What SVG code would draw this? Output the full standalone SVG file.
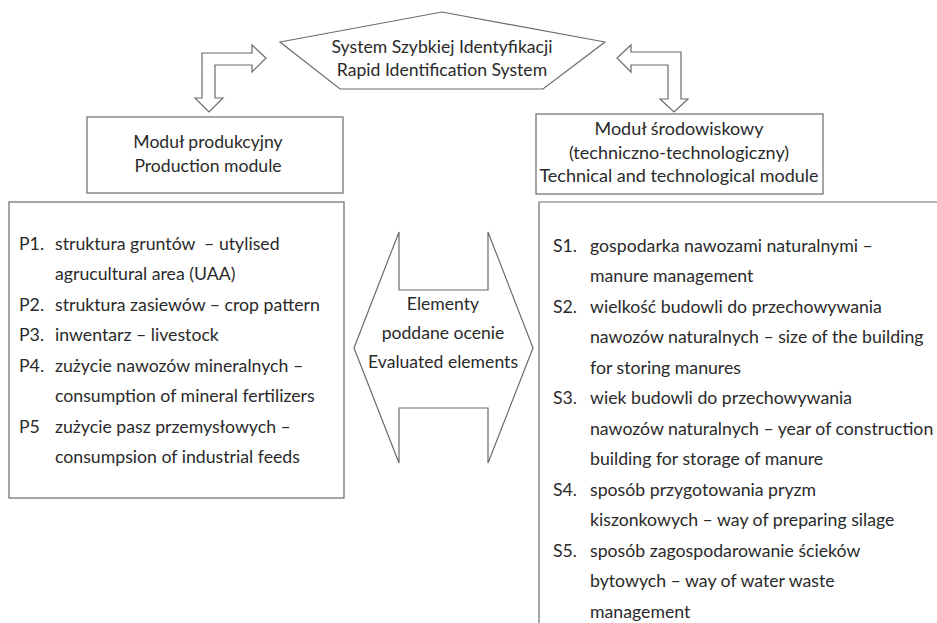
<svg xmlns="http://www.w3.org/2000/svg" width="937" height="623" viewBox="0 0 937 623">
  <style>
    .shape { fill: #ffffff; stroke: #6b6b6b; stroke-width: 1.2; }
    .frame { fill: none; stroke: #6b6b6b; stroke-width: 1.2; }
    text { font-family: Lato, "Open Sans", sans-serif; fill: #2a2a2a; }
    .head { font-size: 17.6px; text-anchor: middle; }
    .wide { font-size: 18px; }
    .item { font-size: 17.7px; }
  </style>
  <rect width="937" height="623" fill="#ffffff"/>

  <!-- bent double-arrow connectors -->
  <g id="connectors">
    <path class="shape" d="M202,98 L202,53 L252,53 L252,45 L266,58 L252,72 L252,65 L215,65 L215,98 L223,98 L209,112 L195,98 Z"/>
    <path class="shape" d="M631,45 L617,58 L631,72 L631,65 L668,65 L668,99 L660,99 L674,112 L688,99 L681,99 L681,52 L631,52 Z"/>
  </g>

  <!-- top node: system -->
  <g id="system">
    <polygon class="shape" points="280,42 442,12 605,42 543,89 340,89"/>
    <text class="head" x="442" y="53">System Szybkiej Identyfikacji</text>
    <text class="head" x="442" y="76">Rapid Identification System</text>
  </g>

  <!-- production module header -->
  <g id="production-module">
    <rect class="shape" x="87" y="117" width="256" height="76"/>
    <text class="head" x="208" y="148">Moduł produkcyjny</text>
    <text class="head" x="208" y="172">Production module</text>
  </g>

  <!-- environmental module header -->
  <g id="environmental-module">
    <rect class="shape" x="536" y="114" width="287" height="80"/>
    <text class="head wide" x="679" y="135">Moduł środowiskowy</text>
    <text class="head wide" x="679" y="159">(techniczno-technologiczny)</text>
    <text class="head wide" x="679" y="182">Technical and technological module</text>
  </g>

  <!-- production elements list -->
  <g id="production-list">
    <rect class="shape" x="9" y="202" width="335" height="296"/>
    <text class="item" x="19" y="250">P1.</text>
    <text class="item" x="55" y="250">struktura gruntów&#160; – utylised</text>
    <text class="item" x="55" y="280">agrucultural area (UAA)</text>
    <text class="item" x="19" y="311">P2.</text>
    <text class="item" x="55" y="311">struktura zasiewów – crop pattern</text>
    <text class="item" x="19" y="341">P3.</text>
    <text class="item" x="55" y="341">inwentarz – livestock</text>
    <text class="item" x="19" y="372">P4.</text>
    <text class="item" x="55" y="372">zużycie nawozów mineralnych –</text>
    <text class="item" x="55" y="402">consumption of mineral fertilizers</text>
    <text class="item" x="19" y="433">P5</text>
    <text class="item" x="55" y="433">zużycie pasz przemysłowych –</text>
    <text class="item" x="55" y="463">consumpsion of industrial feeds</text>
  </g>

  <!-- central evaluated-elements double arrow -->
  <g id="evaluated-elements">
    <polygon class="shape" points="354,348 399,232 399,290 488,290 488,232 533,348 488,463 488,408 399,408 399,463"/>
    <text class="head" x="443" y="310">Elementy</text>
    <text class="head" x="443" y="339">poddane ocenie</text>
    <text class="head" x="443" y="368">Evaluated elements</text>
  </g>

  <!-- environmental elements list (open to the right and bottom) -->
  <g id="environmental-list">
    <path class="frame" d="M539,623 L539,202 L937,202"/>
    <text class="item" x="553" y="252">S1.</text>
    <text class="item" x="590" y="252">gospodarka nawozami naturalnymi –</text>
    <text class="item" x="590" y="282">manure management</text>
    <text class="item" x="553" y="313">S2.</text>
    <text class="item" x="590" y="313">wielkość budowli do przechowywania</text>
    <text class="item" x="590" y="343">nawozów naturalnych – size of the building</text>
    <text class="item" x="590" y="374">for storing manures</text>
    <text class="item" x="553" y="404">S3.</text>
    <text class="item" x="590" y="404">wiek budowli do przechowywania</text>
    <text class="item" x="590" y="435">nawozów naturalnych – year of construction</text>
    <text class="item" x="590" y="465">building for storage of manure</text>
    <text class="item" x="553" y="496">S4.</text>
    <text class="item" x="590" y="496">sposób przygotowania pryzm</text>
    <text class="item" x="590" y="526">kiszonkowych – way of preparing silage</text>
    <text class="item" x="553" y="557">S5.</text>
    <text class="item" x="590" y="557">sposób zagospodarowanie ścieków</text>
    <text class="item" x="590" y="587">bytowych – way of water waste</text>
    <text class="item" x="590" y="618">management</text>
  </g>
</svg>
